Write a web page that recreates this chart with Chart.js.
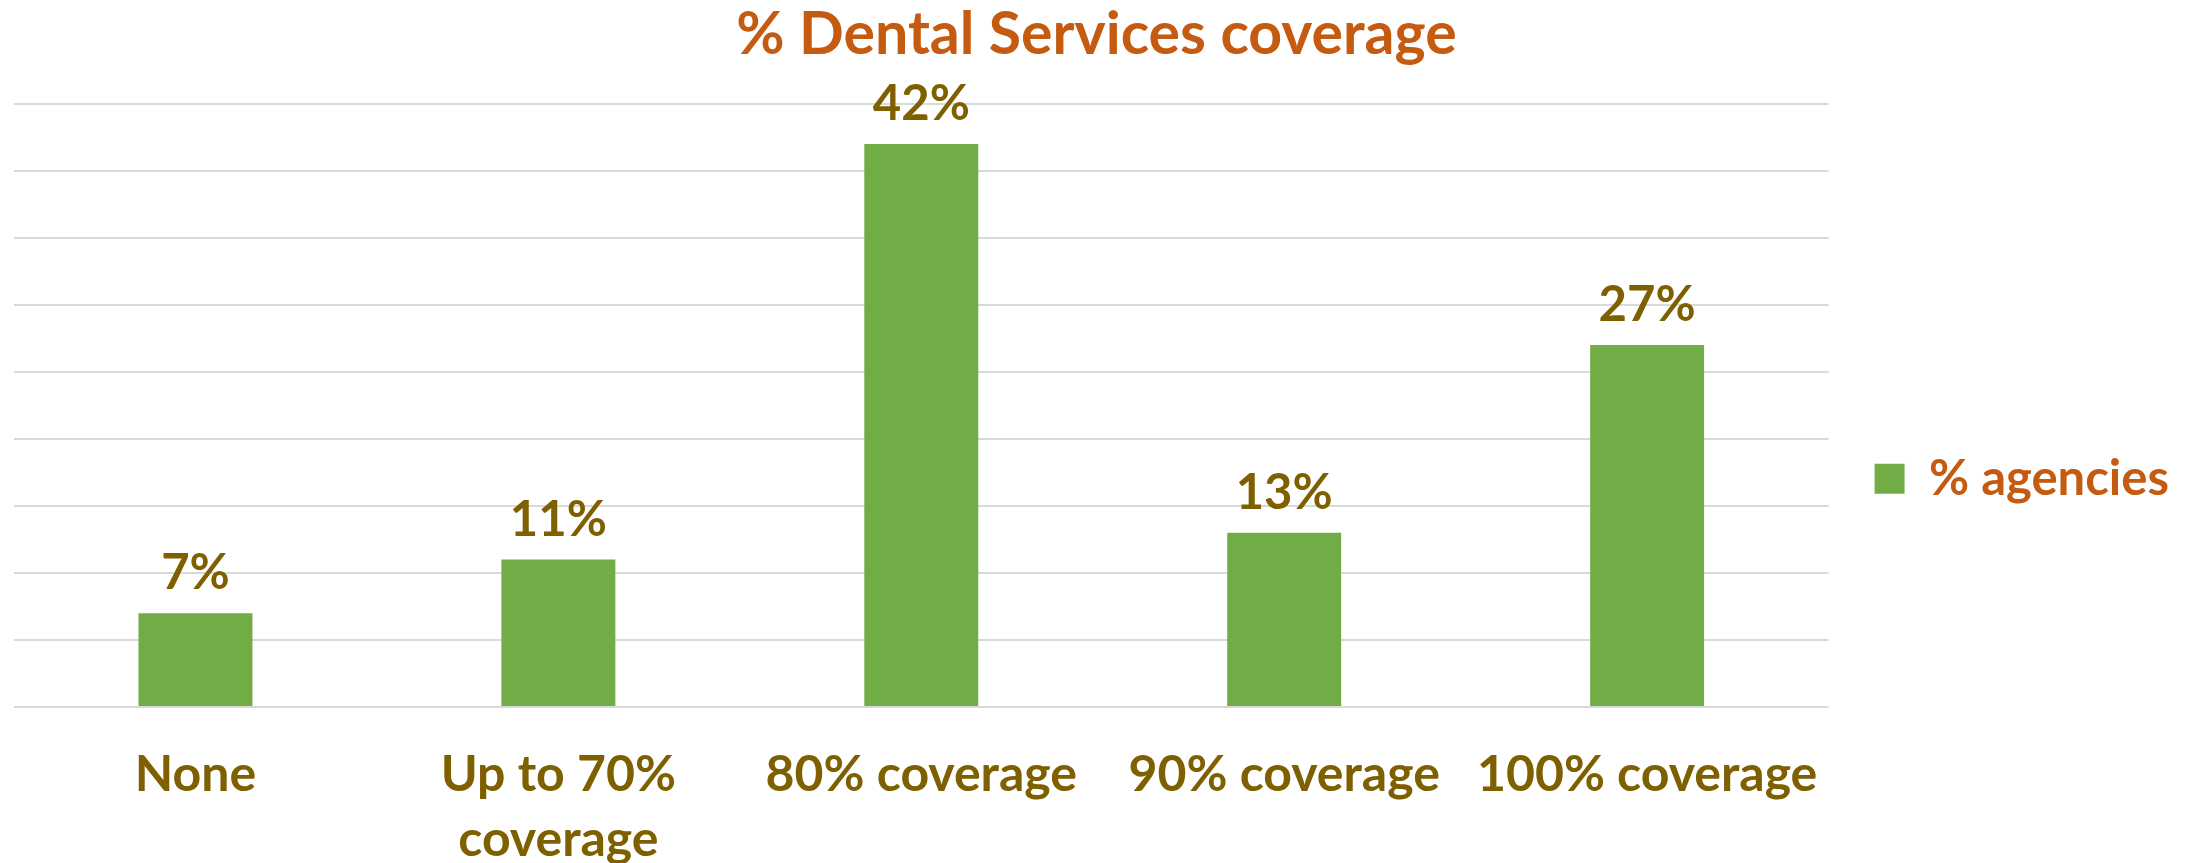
<!DOCTYPE html>
<html>
<head>
<meta charset="utf-8">
<title>% Dental Services coverage</title>
<script src="https://cdn.jsdelivr.net/npm/chart.js@4.4.1/dist/chart.umd.min.js"></script>
<style>
  html, body { margin: 0; padding: 0; background: #fff; }
  #wrap { width: 2191px; height: 863px; }
</style>
</head>
<body>
<div id="wrap"><canvas id="coverage-chart"></canvas></div>
<script>
// Share of agencies by dental services coverage level
const categories = ['None', ['Up to 70%', 'coverage'], '80% coverage', '90% coverage', '100% coverage'];
const agencyShares = [7, 11, 42, 13, 27];
const axisMax = 45;
const axisStep = 5;

const labelColor = '#7F6000';
const accentColor = '#C55A11';
const barColor = '#70AD47';

// writes the percentage above each bar
const valueLabels = {
    id: 'valueLabels',
    afterDatasetsDraw(chart) {
        const ctx = chart.ctx;
        ctx.save();
        ctx.font = 'bold 49px Lato';
        ctx.fillStyle = labelColor;
        ctx.textAlign = 'center';
        ctx.textBaseline = 'alphabetic';
        chart.getDatasetMeta(0).data.forEach((bar, i) => {
            ctx.fillText(agencyShares[i] + '%', bar.x, bar.y - 24);
        });
        ctx.restore();
    }
};

Chart.defaults.font.family = 'Lato';

new Chart(document.getElementById('coverage-chart'), {
    type: 'bar',
    data: {
        labels: categories,
        datasets: [{
            label: '% agencies',
            data: agencyShares,
            backgroundColor: barColor,
            borderWidth: 0,
            barPercentage: 0.314,
            categoryPercentage: 1
        }]
    },
    options: {
        responsive: true,
        maintainAspectRatio: false,
        animation: false,
        layout: {
            padding: { left: 14, right: 12, top: 0, bottom: -37 }
        },
        plugins: {
            title: {
                display: true,
                text: '% Dental Services coverage',
                color: accentColor,
                font: { size: 59, weight: 'bold' },
                padding: { top: 0, bottom: 33 }
            },
            legend: {
                position: 'right',
                // empty title only nudges the legend entry down
                title: {
                    display: true,
                    text: ' ',
                    font: { size: 8 },
                    padding: { top: 48, bottom: 0 }
                },
                labels: {
                    boxWidth: 30,
                    boxHeight: 30,
                    padding: 46,
                    color: accentColor,
                    font: { size: 49, weight: 'bold' }
                }
            },
            tooltip: { enabled: false }
        },
        scales: {
            x: {
                grid: { display: false },
                border: { display: false },
                ticks: {
                    color: labelColor,
                    padding: 27,
                    maxRotation: 0,
                    font: { size: 50, weight: 'bold', lineHeight: 1.31 }
                }
            },
            y: {
                display: true,
                min: 0,
                max: axisMax,
                grid: { color: '#D9D9D9', lineWidth: 2, drawTicks: false },
                border: { display: false },
                ticks: { display: false, stepSize: axisStep }
            }
        }
    },
    plugins: [valueLabels]
});
</script>
</body>
</html>
